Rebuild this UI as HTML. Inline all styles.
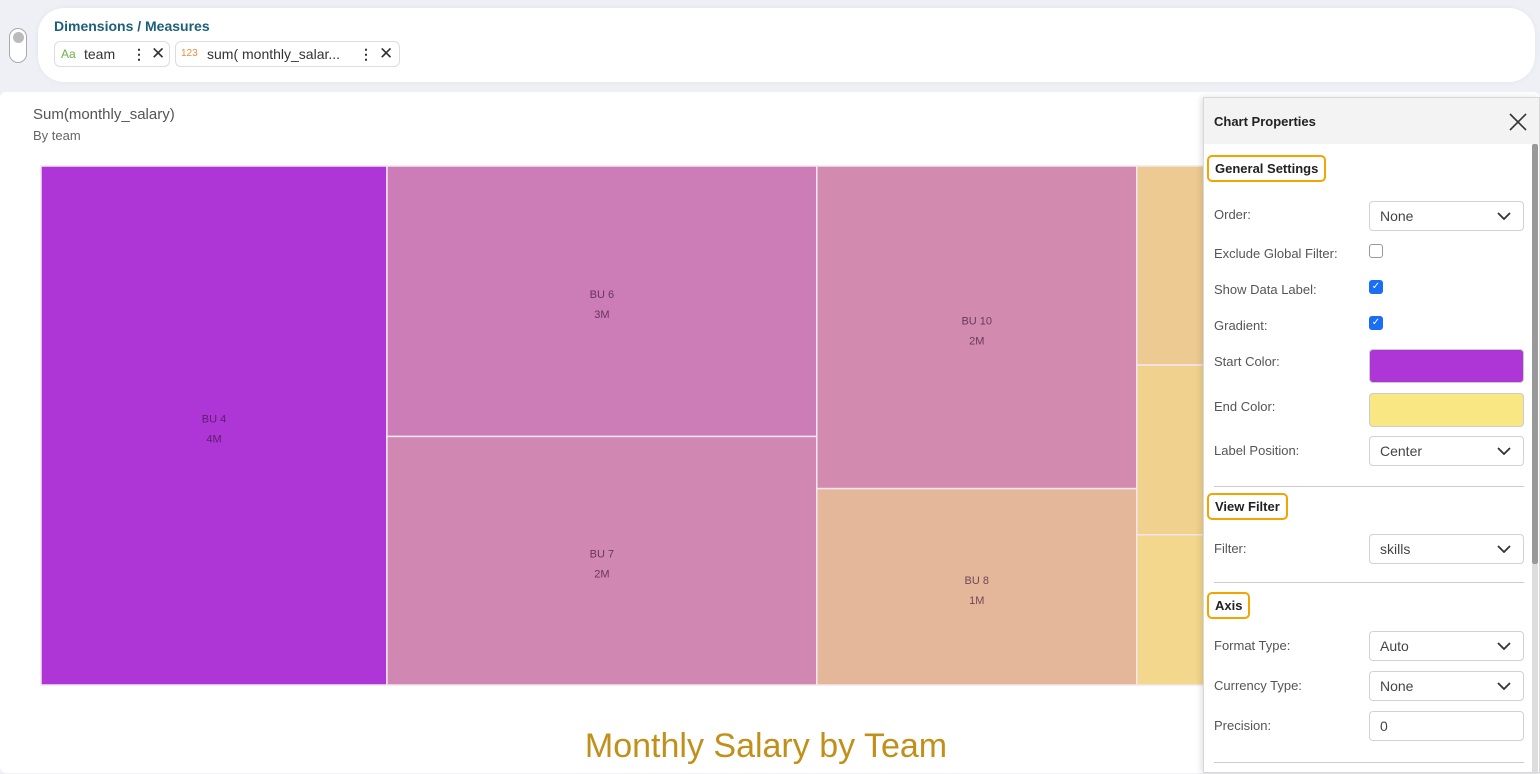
<!DOCTYPE html>
<html><head><meta charset="utf-8"><style>
*{box-sizing:border-box;margin:0;padding:0}
body{width:1540px;height:773px;overflow:hidden;background:#eef0f6;font-family:"Liberation Sans",sans-serif;position:relative}
.abs{position:absolute}
.pill{position:absolute;top:41px;height:26px;border:1px solid #dcdde3;border-radius:6px;background:#fff;font-size:14px;color:#333;line-height:24px}
.lbl{position:absolute;left:10px;font-size:13px;color:#555}
.sel{position:absolute;left:165px;width:155px;height:30px;border:1px solid #cfd2d8;border-radius:4px;font-size:14px;color:#444;line-height:28px;padding-left:10px;background:#fff}
.sel svg{position:absolute;right:12px;top:10px}
.sec{position:absolute;left:3px;border:2px solid #f4a300;border-radius:5px;font-size:13px;font-weight:bold;color:#222;padding:4px 6px}
.cb{position:absolute;left:165px;width:14px;height:14px;border-radius:3px}
.hr{position:absolute;left:10px;width:310px;height:1px;background:#ccc}
</style></head><body>
<div class="abs" style="left:38px;top:8px;width:1497px;height:74px;background:#fff;border-radius:26px;box-shadow:0 0 4px #e0e3ec"></div>
<div class="abs" style="left:9px;top:28px;width:18px;height:35px;border:1px solid #aaa;border-radius:9px;background:#fff"><div style="position:absolute;left:3px;top:3px;width:11px;height:11px;border-radius:50%;background:#bbb"></div></div>
<div class="abs" style="left:54px;top:18px;font-size:14px;font-weight:bold;color:#1d5f7a">Dimensions / Measures</div>
<div class="pill" style="left:54px;width:116px"><span style="position:absolute;left:6px;color:#6bb04a;font-size:12px">Aa</span><span style="position:absolute;left:29px">team</span><span style="position:absolute;left:77px;font-weight:bold">⋮</span><span style="position:absolute;left:96px;font-size:17px">✕</span></div>
<div class="pill" style="left:175px;width:225px"><span style="position:absolute;left:5px;color:#f08a3c;font-size:10px">123</span><span style="position:absolute;left:31px">sum( monthly_salar...</span><span style="position:absolute;left:183px;font-weight:bold">⋮</span><span style="position:absolute;left:203px;font-size:17px">✕</span></div>
<div class="abs" style="left:0;top:92px;width:1540px;height:681px;background:#fff;border-radius:6px"></div>
<div class="abs" style="left:33px;top:106px;font-size:15px;color:#555">Sum(monthly_salary)</div>
<div class="abs" style="left:33px;top:128px;font-size:13px;color:#666">By team</div>
<svg class="abs" style="left:0;top:0" width="1540" height="773" id="tm"></svg>
<div class="abs" style="left:0;width:1532px;top:727px;text-align:center;font-size:34px;color:#c0901a">Monthly Salary by Team</div>

<div class="abs" style="left:1203px;top:97px;width:337px;height:676px;background:#fff;border:1px solid #d8d8d8;box-shadow:-2px 0 6px rgba(0,0,0,.12)">
 <div style="position:absolute;left:0;top:0;width:335px;height:46px;background:#f3f3f3"></div>
 <div class="abs" style="left:10px;top:16px;font-size:13px;font-weight:bold;color:#222">Chart Properties</div>
 <svg class="abs" style="left:305px;top:15px" width="18" height="18"><path d="M1 1L17 17M17 1L1 17" stroke="#333" stroke-width="1.6"/></svg>
 <div class="abs" style="left:328px;top:46px;width:6px;height:420px;background:#999;border-radius:2px"></div>
 <div class="abs" style="left:328px;top:466px;width:6px;height:210px;background:#ddd"></div>
 <div class="sec" style="top:57px">General Settings</div>
 <div class="lbl" style="top:109px">Order:</div>
 <div class="sel" style="top:103px">None<svg width="14" height="8"><path d="M1 1L7 7L13 1" stroke="#333" stroke-width="1.8" fill="none"/></svg></div>
 <div class="lbl" style="top:148px">Exclude Global Filter:</div>
 <div class="cb" style="top:146px;border:1px solid #999"></div>
 <div class="lbl" style="top:184px">Show Data Label:</div>
 <div class="cb" style="top:182px;background:#1a6ef5;color:#fff;font-size:10px;text-align:center;line-height:14px">✓</div>
 <div class="lbl" style="top:220px">Gradient:</div>
 <div class="cb" style="top:218px;background:#1a6ef5;color:#fff;font-size:10px;text-align:center;line-height:14px">✓</div>
 <div class="lbl" style="top:256px">Start Color:</div>
 <div class="abs" style="left:165px;top:251px;width:155px;height:34px;background:#ae36d6;border:1px solid #ccc;border-radius:4px"></div>
 <div class="lbl" style="top:301px">End Color:</div>
 <div class="abs" style="left:165px;top:295px;width:155px;height:34px;background:#f9e784;border:1px solid #ccc;border-radius:4px"></div>
 <div class="lbl" style="top:345px">Label Position:</div>
 <div class="sel" style="top:338px">Center<svg width="14" height="8"><path d="M1 1L7 7L13 1" stroke="#333" stroke-width="1.8" fill="none"/></svg></div>
 <div class="hr" style="top:388px"></div>
 <div class="sec" style="top:395px">View Filter</div>
 <div class="lbl" style="top:443px">Filter:</div>
 <div class="sel" style="top:436px">skills<svg width="14" height="8"><path d="M1 1L7 7L13 1" stroke="#333" stroke-width="1.8" fill="none"/></svg></div>
 <div class="hr" style="top:484px"></div>
 <div class="sec" style="top:494px">Axis</div>
 <div class="lbl" style="top:540px">Format Type:</div>
 <div class="sel" style="top:533px">Auto<svg width="14" height="8"><path d="M1 1L7 7L13 1" stroke="#333" stroke-width="1.8" fill="none"/></svg></div>
 <div class="lbl" style="top:580px">Currency Type:</div>
 <div class="sel" style="top:573px">None<svg width="14" height="8"><path d="M1 1L7 7L13 1" stroke="#333" stroke-width="1.8" fill="none"/></svg></div>
 <div class="lbl" style="top:620px">Precision:</div>
 <div class="sel" style="top:613px">0</div>
 <div class="hr" style="top:664px"></div>
</div>
<script>
const teams=["BU 4","BU 6","BU 7","BU 10","BU 8","BU 1","BU 2","BU 3","BU 5","BU 9","BU 11"];
const salaries=[4.0,2.59,2.38,2.30,1.40,1.02,0.87,0.77,0.6,0.5,0.44];
const columnSizes=[1,2,2,3,3];
const svg=document.getElementById('tm');
const NS='http://www.w3.org/2000/svg';
const X0=41,Y0=166,W=1459,H=519;
const start=[174,54,214],end=[249,231,132];
const total=salaries.reduce((a,b)=>a+b,0);
const vmax=Math.max(...salaries),vmin=Math.min(...salaries);
let idx=0,x=X0;
columnSizes.forEach(n=>{
  const items=salaries.slice(idx,idx+n);
  const cs=items.reduce((a,b)=>a+b,0);
  const cw=W*cs/total;
  let y=Y0;
  items.forEach((v,k)=>{
    const i=idx+k,h=H*v/cs;
    const t=(vmax-v)/(vmax-vmin);
    const c=start.map((s,j)=>Math.round(s+(end[j]-s)*t));
    const r=document.createElementNS(NS,'rect');
    
    
    r.setAttribute('x',x);r.setAttribute('y',y);r.setAttribute('width',cw);r.setAttribute('height',h);
    r.setAttribute('fill',`rgb(${c})`);r.setAttribute('stroke','#f3e6ef');r.setAttribute('stroke-width','1.5');
    svg.appendChild(r);
    [[teams[i],-3],[Math.round(salaries[i])+'M',17]].forEach(([s,d])=>{
      const tx=document.createElementNS(NS,'text');
      
      
      tx.setAttribute('x',x+cw/2);tx.setAttribute('y',y+h/2+d);
      tx.setAttribute('text-anchor','middle');tx.setAttribute('font-size','11');
      tx.setAttribute('fill','rgba(60,20,60,0.7)');tx.setAttribute('font-family','Liberation Sans, sans-serif');
      tx.textContent=s;svg.appendChild(tx);
    });
    y+=h;
  });
  x+=cw;idx+=n;
});
</script>
</body></html>
